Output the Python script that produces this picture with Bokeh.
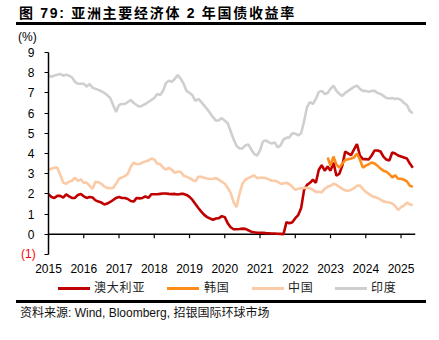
from bokeh.plotting import figure
from bokeh.models import Range1d, FixedTicker, Div, Span
from bokeh.layouts import column
from bokeh.embed import file_html
from bokeh.resources import INLINE

# ---------------- data (monthly, from Jan 2015) ----------------
start_year = 2015
australia = [
    1.98, 1.85, 1.80, 1.90, 1.90, 1.82, 1.98, 1.88, 1.80, 1.80, 1.95, 2.00,
    1.88, 1.80, 1.85, 1.82, 1.68, 1.62, 1.57, 1.48, 1.52, 1.60, 1.70, 1.80,
    1.85, 1.80, 1.80, 1.75, 1.65, 1.62, 1.80, 1.78, 1.80, 1.88, 1.80, 1.98,
    1.98, 1.98, 2.00, 2.02, 2.02, 2.00, 1.99, 2.00, 1.97, 2.00, 2.00, 1.95,
    1.85, 1.70, 1.50, 1.30, 1.12, 0.96, 0.85, 0.78, 0.72, 0.78, 0.80, 0.90,
    0.85, 0.55, 0.35, 0.25, 0.25, 0.26, 0.28, 0.27, 0.20, 0.13, 0.10, 0.08,
    0.08, 0.08, 0.06, 0.05, 0.04, 0.04, 0.03, 0.02, 0.01, 0.60, 0.55, 0.60,
    0.80, 0.95, 1.30, 2.20, 2.45, 2.55, 2.70, 2.55, 3.20, 3.42, 3.15, 3.35,
    3.15, 3.55, 2.90, 3.00, 3.40, 4.10, 4.00, 3.92, 4.20, 4.47, 3.90, 3.72,
    3.72, 3.70, 3.90, 4.15, 4.15, 4.10, 3.85, 3.70, 3.65, 4.05, 4.00, 3.90,
    3.85, 3.80, 3.75, 3.50, 3.30,
]
korea_start_month = 95  # Dec 2022
korea = [
    3.80, 3.40, 3.85, 3.45, 3.30, 3.50, 3.68, 3.72, 3.75, 3.80, 4.00, 3.70,
    3.30, 3.40, 3.47, 3.55, 3.50, 3.39, 3.25, 3.15, 3.10, 2.98, 2.82, 2.92,
    2.75, 2.75, 2.70, 2.62, 2.40, 2.35,
]
china = [
    3.20, 3.25, 3.30, 3.30, 2.95, 2.56, 2.50, 2.60, 2.65, 2.80, 2.65, 2.72,
    2.55, 2.56, 2.40, 2.25, 2.60, 2.58, 2.50, 2.36, 2.30, 2.28, 2.30, 2.50,
    2.75, 2.82, 2.88, 3.00, 3.35, 3.55, 3.47, 3.48, 3.55, 3.60, 3.65, 3.75,
    3.70, 3.50, 3.47, 3.30, 3.20, 3.30, 3.18, 3.05, 3.10, 3.10, 2.90, 2.85,
    2.78, 2.70, 2.62, 2.85, 2.85, 2.80, 2.76, 2.74, 2.75, 2.78, 2.70, 2.60,
    2.50, 2.30, 2.05, 1.60, 1.35, 2.00, 2.50, 2.70, 2.78, 2.85, 2.92, 2.78,
    2.80, 2.80, 2.78, 2.72, 2.65, 2.65, 2.60, 2.50, 2.52, 2.55, 2.48, 2.35,
    2.20, 2.25, 2.28, 2.30, 2.30, 2.28, 2.20, 2.10, 2.10, 2.08, 2.25, 2.35,
    2.40, 2.50, 2.45, 2.35, 2.25, 2.18, 2.15, 2.20, 2.28, 2.40, 2.42, 2.25,
    2.10, 2.00, 1.90, 1.85, 1.80, 1.72, 1.63, 1.60, 1.57, 1.52, 1.40, 1.20,
    1.35, 1.42, 1.57, 1.48, 1.45,
]
india = [
    7.86, 7.80, 7.86, 7.90, 7.94, 7.85, 7.90, 7.85, 7.77, 7.55, 7.45, 7.45,
    7.45, 7.31, 7.44, 7.25, 7.20, 7.15, 7.08, 7.00, 6.88, 6.75, 6.40, 6.05,
    6.40, 6.45, 6.45, 6.55, 6.65, 6.50, 6.40, 6.32, 6.38, 6.45, 6.55, 6.65,
    6.75, 6.95, 6.90, 7.10, 7.50, 7.60, 7.55, 7.70, 7.88, 7.70, 7.45, 7.10,
    7.00, 6.88, 6.60, 6.70, 6.55, 6.37, 6.20, 6.00, 5.80, 5.62, 5.65, 5.75,
    5.62, 5.50, 5.10, 4.70, 4.38, 4.25, 4.25, 4.40, 4.45, 4.20, 3.98, 3.90,
    4.15, 4.60, 4.65, 4.55, 4.50, 4.55, 4.30, 4.40, 4.70, 4.78, 4.80, 5.00,
    4.98, 4.90, 5.00, 5.60, 6.30, 6.55, 6.45, 6.70, 7.05, 7.10, 6.95, 7.00,
    7.20, 7.36, 7.10, 6.95, 6.85, 7.00, 7.10, 7.20, 7.30, 7.36, 7.20, 7.10,
    7.10, 7.05, 7.10, 7.10, 7.00, 6.95, 6.85, 6.75, 6.72, 6.75, 6.70, 6.72,
    6.65, 6.50, 6.40, 6.10, 6.00,
]
series_names = ["澳大利亚", "韩国", "中国", "印度"]
series_colors = ["#C00000", "#FF8C1A", "#FACBA6", "#CFCFCF"]
year_ticks = [2015, 2016, 2017, 2018, 2019, 2020, 2021, 2022, 2023, 2024, 2025]
y_ticks = [-1, 0, 1, 2, 3, 4, 5, 6, 7, 8, 9]
neg_label = "(1)"
unit_label = "(%)"
title_text = "图 79: 亚洲主要经济体 2 年国债收益率"
source_text = "资料来源: Wind, Bloomberg, 招银国际环球市场"

months = [start_year + i / 12 for i in range(len(australia))]
korea_x = months[korea_start_month:korea_start_month + len(korea)]

LATIN = "Liberation Sans"
FONT_STACK = "'Liberation Sans','Noto Sans CJK SC'"

# ---------------- figure ----------------
p = figure(frame_width=367, frame_height=202, output_backend="svg",
           toolbar_location=None,
           x_range=Range1d(2015, 2025.41), y_range=Range1d(-1, 9),
           min_border_left=48, min_border_right=24, min_border_top=8,
           min_border_bottom=24)
p.outline_line_color = None
p.grid.visible = False
p.background_fill_color = "white"
p.border_fill_color = "white"

p.line(months, australia, color=series_colors[0], line_width=2.6)
p.line(korea_x, korea, color=series_colors[1], line_width=2.6)
p.line(months, china, color=series_colors[2], line_width=2.6)
p.line(months, india, color=series_colors[3], line_width=2.6)

# zero line with its year ticks
p.add_layout(Span(location=0, dimension="width", line_color="black",
                  line_width=1.5, level="underlay"))
p.segment(x0=year_ticks, y0=[0] * len(year_ticks), x1=year_ticks,
          y1=[-0.2] * len(year_ticks), line_color="black", line_width=1.2)

# y axis
ya = p.yaxis[0]
ya.ticker = FixedTicker(ticks=y_ticks)
ya.major_label_overrides = {-1: ""}
ya.axis_line_color = "black"
ya.axis_line_width = 1.5
ya.major_tick_line_color = "black"
ya.major_tick_line_width = 1.2
ya.major_tick_out = 4
ya.major_tick_in = 0
ya.minor_tick_line_color = None
ya.major_label_standoff = 10
ya.major_label_text_font = LATIN
ya.major_label_text_font_size = "12px"
ya.major_label_text_color = "black"

# x axis (labels only, at the bottom)
xa = p.xaxis[0]
xa.ticker = FixedTicker(ticks=year_ticks)
xa.axis_line_color = None
xa.major_tick_line_color = None
xa.minor_tick_line_color = None
xa.major_tick_out = 0
xa.major_tick_in = 0
xa.major_label_standoff = 9
xa.major_label_text_font = LATIN
xa.major_label_text_font_size = "12px"
xa.major_label_text_color = "black"

# ---------------- header: title, rule, unit ----------------
title_html = (
    '<div style="position:relative;width:439px;height:44px;">'
    f'<div style="position:absolute;left:19px;top:4px;white-space:nowrap;'
    f'font-family:{FONT_STACK};font-weight:bold;font-size:14px;'
    f'line-height:18px;letter-spacing:1.7px;color:#000;">{title_text}</div>'
    '<div style="position:absolute;left:16px;top:22px;width:410px;height:3px;'
    'background:#000;"></div>'
    f'<div style="position:absolute;left:18px;top:30px;white-space:nowrap;'
    f'font-family:{FONT_STACK};font-size:12px;line-height:14px;color:#000;">'
    f'{unit_label}</div></div>'
)

# ---------------- footer: (1) label, legend, rule, source ----------------
legend_lines_left = [58, 167, 252, 335]
legend_text_left = [94, 204, 288, 371]
legend_html = ""
for name, color, lx, tx in zip(series_names, series_colors,
                               legend_lines_left, legend_text_left):
    legend_html += (
        f'<div style="position:absolute;left:{lx}px;top:41.5px;width:32px;'
        f'height:3px;background:{color};"></div>'
        f'<div style="position:absolute;left:{tx}px;top:36px;white-space:nowrap;'
        f'font-family:{FONT_STACK};font-size:12px;line-height:14px;'
        f'letter-spacing:0.8px;color:#222;">{name}</div>'
    )
source_html = (
    '<div style="position:relative;width:439px;height:95px;">'
    f'<div style="position:absolute;left:21px;top:1.5px;white-space:nowrap;'
    f'font-family:{FONT_STACK};font-size:12px;line-height:14px;'
    f'color:#FF0000;">{neg_label}</div>'
    + legend_html +
    '<div style="position:absolute;left:16px;top:55px;width:410px;height:2.5px;'
    'background:#000;"></div>'
    f'<div style="position:absolute;left:20px;top:60.5px;white-space:nowrap;'
    f'font-family:{FONT_STACK};font-size:12px;line-height:14px;color:#111;">'
    f'{source_text}</div></div>'
)
top = Div(text=title_html, width=439, height=44, margin=0)
bottom = Div(text=source_html, width=439, height=95, margin=(-33, 0, 0, 0))

layout = column(top, p, bottom, spacing=0, margin=0)

open("out.html", "w").write(file_html(layout, INLINE))
